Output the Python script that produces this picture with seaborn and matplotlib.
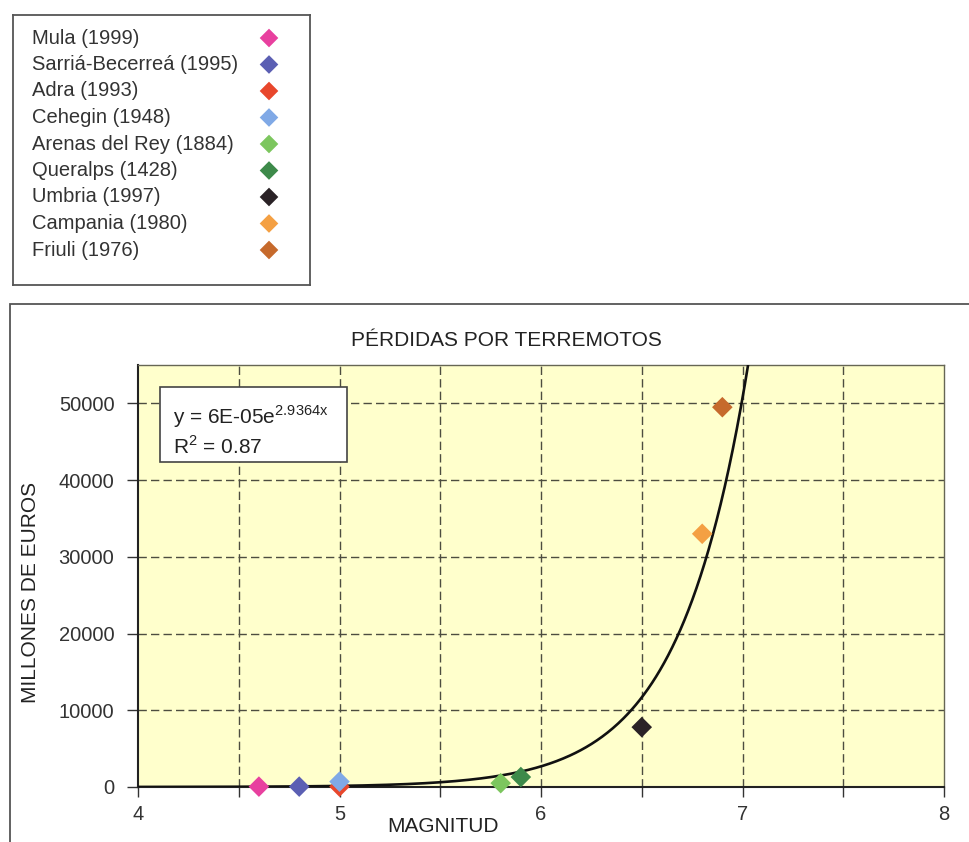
import numpy as np
import pandas as pd
import seaborn as sns
import matplotlib.pyplot as plt
from matplotlib.patches import Rectangle

# data
names = ["Mula (1999)", "Sarriá-Becerreá (1995)", "Adra (1993)", "Cehegin (1948)",
         "Arenas del Rey (1884)", "Queralps (1428)", "Umbria (1997)",
         "Campania (1980)", "Friuli (1976)"]
magnitudes = [4.6, 4.8, 5.0, 5.0, 5.8, 5.9, 6.5, 6.8, 6.9]
losses = [50, 50, 50, 700, 500, 1300, 7800, 33000, 49500]
colors = ["#e8409f", "#5b5fb3", "#e8472c", "#80a9e6", "#7cc65e",
          "#3d8a4a", "#2a2226", "#f4a043", "#c66a2c"]

# trendline shown in the chart: y = a * exp(b x)
trend_a = 6e-05
trend_b = 2.9364
trend_r2 = 0.87

x_ticks = [4, 5, 6, 7, 8]
y_ticks = [0, 10000, 20000, 30000, 40000, 50000]

W, H = 969, 842
def fx(px):
    return px / W
def fy(py):
    return 1 - py / H

sns.set_style("white")
plt.rcParams['font.family'] = ['Liberation Sans', 'DejaVu Sans']

fig = plt.figure(figsize=(W / 100, H / 100), dpi=100)

# outer chart frame
fig.patches.append(Rectangle((fx(10), fy(860)), fx(1000) - fx(10), fy(304) - fy(860),
                             transform=fig.transFigure, fill=False,
                             edgecolor="#555555", linewidth=1.3))

# plot area
left, right, top, bottom = 138, 944, 365, 787
ax = fig.add_axes([fx(left), fy(bottom), fx(right) - fx(left), fy(top) - fy(bottom)])
ax.set_facecolor("#ffffcc")

df = pd.DataFrame({"Magnitud": magnitudes, "Perdidas": losses, "Terremoto": names})

xs = np.linspace(4, 8, 600)
trend = pd.DataFrame({"x": xs, "y": trend_a * np.exp(trend_b * xs)})
trend = trend[trend["y"] < 80000]
sns.lineplot(data=trend, x="x", y="y", ax=ax, color="#111111", linewidth=1.9, zorder=3)

sns.scatterplot(data=df, x="Magnitud", y="Perdidas", hue="Terremoto",
                palette=dict(zip(names, colors)), marker="D", s=110,
                edgecolor="none", legend=False, ax=ax, zorder=4, clip_on=False)

ax.set_xlim(4, 8)
ax.set_ylim(0, 55000)
half_steps = np.arange(4, 8.01, 0.5)
ax.set_xticks(half_steps)
ax.set_xticklabels([str(int(t)) if int(t) in x_ticks and t == int(t) else "" for t in half_steps])
ax.set_yticks(y_ticks)
ax.set_yticklabels([str(t) for t in y_ticks])

for v in half_steps[1:-1]:
    ax.axvline(v, color="#4d4d40", linewidth=1.0, linestyle=(0, (6, 3)), zorder=1)
for v in y_ticks[1:]:
    ax.axhline(v, color="#4d4d40", linewidth=1.0, linestyle=(0, (6, 3)), zorder=1)

ax.tick_params(axis="y", direction="out", length=8, width=1, color="#333333",
               pad=9, labelsize=14.5, labelcolor="#333333", left=True)
ax.tick_params(axis="x", direction="out", length=7, width=1, color="#333333",
               pad=6, labelsize=14.5, labelcolor="#333333", bottom=True)
for side in ["left", "bottom"]:
    ax.spines[side].set_color("#222222")
    ax.spines[side].set_linewidth(1.5)
for side in ["top", "right"]:
    ax.spines[side].set_color("#666655")
    ax.spines[side].set_linewidth(1.0)
ax.set_xlabel("")
ax.set_ylabel("")

fig.text(fx(506), fy(340), "PÉRDIDAS POR TERREMOTOS", ha="center", va="center",
         fontsize=15, color="#222222")
fig.text(fx(31), fy(592), "MILLONES DE EUROS", ha="center", va="center",
         rotation=90, fontsize=15, color="#222222")
fig.text(fx(443), fy(826), "MAGNITUD", ha="center", va="center",
         fontsize=15, color="#222222")

# equation box
fig.patches.append(Rectangle((fx(160), fy(462)), fx(347) - fx(160), fy(387) - fy(462),
                             transform=fig.transFigure, facecolor="white",
                             edgecolor="#444444", linewidth=1.2, zorder=5))
fig.text(fx(173), fy(417), r"y = 6E-05e$^{\mathregular{%s}}$" % f"{trend_b}x",
         ha="left", va="center", fontsize=15, color="#222222", zorder=6)
fig.text(fx(173), fy(446), r"R$^{\mathregular{2}}$ = %s" % trend_r2,
         ha="left", va="center", fontsize=15, color="#222222", zorder=6)

# legend box
lx0, ly0, lx1, ly1 = 13, 15, 310, 285
leg = fig.add_axes([fx(lx0), fy(ly1), fx(lx1) - fx(lx0), fy(ly0) - fy(ly1)])
leg.set_xlim(0, lx1 - lx0)
leg.set_ylim(ly1 - ly0, 0)
leg.set_xticks([])
leg.set_yticks([])
for s in leg.spines.values():
    s.set_color("#555555")
    s.set_linewidth(1.3)
for i, (n, c) in enumerate(zip(names, colors)):
    yy = 38 - ly0 + i * 26.5
    leg.text(32 - lx0, yy, n, ha="left", va="center", fontsize=14.5, color="#333333")
    leg.scatter([269 - lx0], [yy], marker="D", s=90, color=c, edgecolor="none")

fig.savefig("out.png", dpi=100)
